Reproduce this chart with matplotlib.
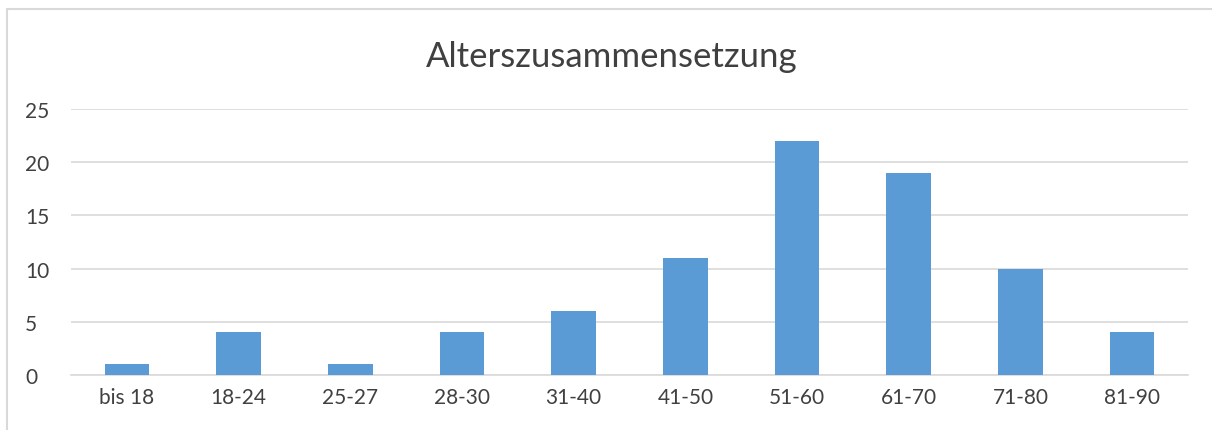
import matplotlib.pyplot as plt
from matplotlib.patches import Rectangle
import numpy as np

plt.rcParams['font.family'] = ['Lato', 'DejaVu Sans']

categories = ['bis 18', '18-24', '25-27', '28-30', '31-40', '41-50', '51-60', '61-70', '71-80', '81-90']
counts = [1, 4, 1, 4, 6, 11, 22, 19, 10, 4]

W, H = 1212, 431
fig = plt.figure(figsize=(W / 100, H / 100), dpi=100)

# chart frame, cut off on the right and bottom like the screenshot
fig.patches.append(Rectangle((7 / W, -0.1), 1.2, 1 - 10 / H + 0.1,
                             transform=fig.transFigure, fill=False,
                             edgecolor='#D9D9D9', linewidth=1.5))

ax = fig.add_axes([71 / W, 1 - 376 / H, (1188 - 71) / W, (376 - 110) / H])
x = np.arange(len(categories))
ax.bar(x, counts, width=0.4, color='#5B9BD5', zorder=3)

ax.set_xlim(-0.5, len(categories) - 0.5)
ax.set_ylim(0, 25)
ax.set_yticks(range(0, 26, 5))
ax.set_xticks(x)
ax.set_xticklabels(categories)
ax.grid(axis='y', color='#D9D9D9', linewidth=1.2, zorder=0)
for s in ['top', 'right', 'left']:
    ax.spines[s].set_visible(False)
ax.spines['bottom'].set_color('#D9D9D9')
ax.spines['bottom'].set_linewidth(1.2)
ax.tick_params(axis='both', length=0, labelsize=15, colors='#404040')
ax.tick_params(axis='x', pad=9)
ax.tick_params(axis='y', pad=33)
for lbl in ax.get_yticklabels():
    lbl.set_horizontalalignment('left')

fig.text(612 / W, 1 - 57 / H, 'Alterszusammensetzung', ha='center', va='center',
         fontsize=25, color='#404040')

fig.savefig('out.png', dpi=100)
